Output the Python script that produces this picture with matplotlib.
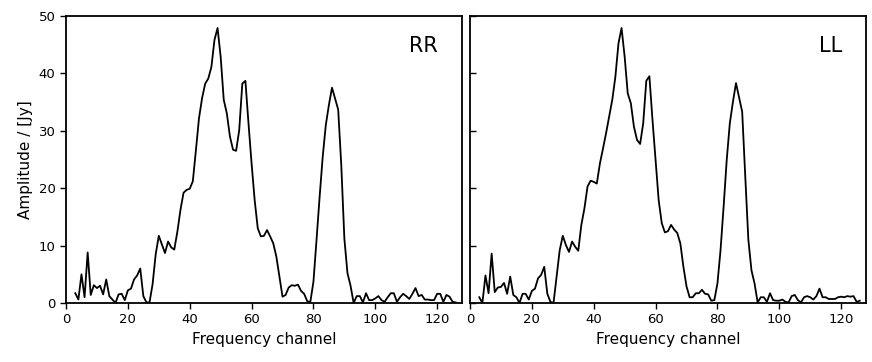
"""
RR / LL amplitude spectra
"""
import numpy as np
import matplotlib
matplotlib.use("Agg")
import matplotlib.pyplot as plt

channels = np.arange(3, 127)

rr = [1.7, 0.6, 5.0, 1.0, 8.8, 1.4, 3.1, 2.6, 3.0, 1.5,
      4.1, 1.2, 0.6, 0.0, 1.5, 1.6, 0.5, 2.2, 2.5, 4.1,
      4.8, 6.0, 1.2, 0.1, 0.1, 3.3, 8.5, 11.7, 10.2, 8.7,
      10.7, 9.7, 9.3, 12.4, 16.2, 19.2, 19.7, 19.9, 21.2, 26.6,
      32.2, 35.7, 38.2, 39.1, 41.1, 45.8, 47.9, 42.9, 35.4, 33.0,
      29.0, 26.7, 26.5, 30.1, 38.2, 38.7, 31.3, 24.3, 17.9, 13.0,
      11.6, 11.7, 12.7, 11.6, 10.4, 8.1, 4.6, 1.1, 1.4, 2.7,
      3.1, 3.0, 3.2, 2.1, 1.6, 0.3, 0.2, 3.7, 11.0, 18.5,
      25.5, 31.0, 34.5, 37.5, 35.6, 33.7, 24.0, 11.2, 5.2, 3.0,
      0.0, 1.2, 1.2, 0.1, 1.7, 0.5, 0.5, 0.8, 1.2, 0.5,
      0.2, 1.0, 1.7, 1.7, 0.2, 1.0, 1.6, 1.2, 0.7, 1.6,
      2.6, 1.2, 1.4, 0.6, 0.6, 0.5, 0.5, 1.6, 1.6, 0.2,
      1.4, 1.1, 0.2, 0.1]

ll = [1.0, 0.0, 4.8, 1.7, 8.6, 1.9, 2.7, 2.8, 3.5, 1.6,
      4.6, 1.4, 1.0, 0.0, 1.6, 1.6, 0.6, 2.1, 2.5, 4.3,
      4.9, 6.3, 1.6, 0.2, 0.0, 4.6, 9.2, 11.7, 10.1, 8.9,
      10.7, 9.8, 9.1, 13.6, 16.5, 20.3, 21.3, 21.1, 20.8, 24.3,
      26.9, 29.6, 32.5, 35.4, 39.4, 45.2, 47.9, 42.9, 36.5, 34.8,
      30.7, 28.4, 27.7, 31.3, 38.7, 39.5, 31.9, 24.9, 17.9, 13.9,
      12.3, 12.5, 13.6, 12.8, 12.2, 10.4, 6.3, 2.9, 1.0, 1.0,
      1.7, 1.7, 2.3, 1.6, 1.5, 0.4, 0.5, 3.4, 9.2, 16.8,
      24.9, 31.3, 35.0, 38.3, 35.8, 33.3, 22.0, 11.0, 5.7, 3.4,
      0.1, 1.0, 1.0, 0.2, 1.7, 0.5, 0.4, 0.4, 0.6, 0.2,
      0.1, 1.2, 1.4, 0.5, 0.1, 1.0, 1.2, 1.0, 0.6, 1.2,
      2.5, 1.0, 1.0, 0.7, 0.7, 0.7, 1.0, 1.1, 1.0, 1.2,
      1.1, 1.2, 0.2, 0.4]

labels = ["RR", "LL"]

fig = plt.figure(figsize=(8.72, 3.62), dpi=100)
ax1 = fig.add_axes([0.0757, 0.163, 0.454, 0.793])
ax2 = fig.add_axes([0.539, 0.163, 0.454, 0.793])

for ax, spec, lab in zip([ax1, ax2], [rr, ll], labels):
    ax.plot(channels, spec, color="black", lw=1.3)
    ax.set_xlim(0, 128)
    ax.set_ylim(0, 50)
    ax.set_xticks(range(0, 121, 20))
    ax.set_yticks(range(0, 51, 10))
    ax.tick_params(labelsize=9.5, length=4, width=1, top=False, right=False)
    for s in ax.spines.values():
        s.set_linewidth(1.3)
    ax.text(0.94, 0.93, lab, transform=ax.transAxes, fontsize=15,
            ha="right", va="top")
    ax.set_xlabel("Frequency channel", fontsize=11)

ax1.set_ylabel("Amplitude / [Jy]", fontsize=11)
ax2.tick_params(axis="y", direction="in", labelleft=False)

fig.savefig("out.png", dpi=100)
